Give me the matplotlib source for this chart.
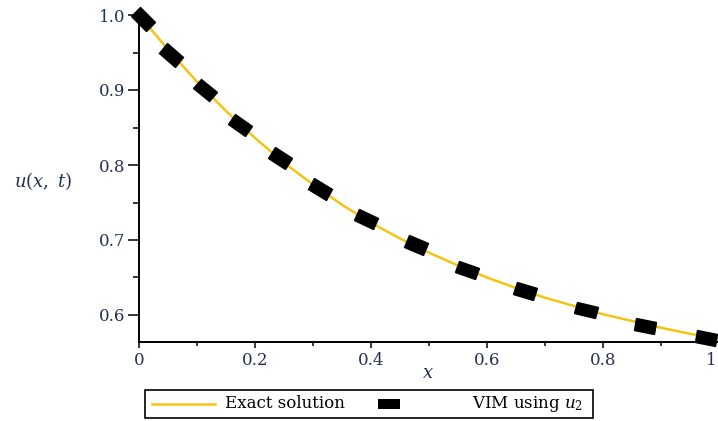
import numpy as np
import matplotlib.pyplot as plt
from matplotlib.markers import MarkerStyle
from matplotlib.transforms import Affine2D, ScaledTranslation
from matplotlib.patches import Rectangle
from matplotlib.lines import Line2D

# exact solution
x_exact = [0.0, 0.05, 0.1, 0.15, 0.2, 0.25, 0.3, 0.35, 0.4, 0.45, 0.5,
           0.55, 0.6, 0.65, 0.7, 0.75, 0.8, 0.85, 0.9, 0.95, 1.0]
u_exact = [1.0, 0.954, 0.911, 0.872, 0.836, 0.803, 0.774, 0.747, 0.723, 0.702, 0.683,
           0.666, 0.650, 0.636, 0.623, 0.612, 0.601, 0.592, 0.583, 0.575, 0.568]

# VIM (u_2) points
x_vim = [0.007, 0.055, 0.114, 0.174, 0.243, 0.312, 0.391, 0.477, 0.565, 0.665, 0.770, 0.872, 0.978]
u_vim = [0.995, 0.947, 0.900, 0.853, 0.809, 0.768, 0.728, 0.693, 0.660, 0.632, 0.607, 0.585, 0.569]

plt.rcParams['font.family'] = ['DejaVu Serif']
plt.rcParams['mathtext.fontset'] = 'dejavuserif'

W, H = 718, 421
fig = plt.figure(figsize=(W / 100, H / 100), dpi=100)
ax = fig.add_axes([139 / W, 1 - 342 / H, 580 / W, 327 / H])

ax.set_xlim(0, 1)
ax.set_ylim(0.564, 1.0)

ax.plot(x_exact, u_exact, color='#f4c414', lw=1.8, zorder=2)

# markers tilted along the curve, like the original
pts = ax.transData.transform(np.column_stack([x_vim, u_vim]))
ang = np.degrees(np.arctan(np.gradient(pts[:, 1], pts[:, 0])))
for (xv, uv, a) in zip(x_vim, u_vim, ang):
    m = MarkerStyle('s', transform=Affine2D().scale(1.7, 1.0).rotate_deg(0.85 * a))
    ax.plot([xv], [uv], ls='none', marker=m, ms=8.8, color='black',
            clip_on=False, zorder=3)

ax.set_xticks([0, 0.2, 0.4, 0.6, 0.8, 1.0])
ax.set_xticklabels(['0', '0.2', '0.4', '0.6', '0.8', '1'])
ax.set_xticks(np.arange(0.1, 1.0, 0.2), minor=True)
ax.set_yticks([0.6, 0.7, 0.8, 0.9, 1.0])
ax.set_yticks([0.65, 0.75, 0.85, 0.95], minor=True)

for s in ['top', 'right']:
    ax.spines[s].set_visible(False)
for s in ['left', 'bottom']:
    ax.spines[s].set_linewidth(1.4)

tc = '#243052'
ax.tick_params(axis='y', which='major', length=8, width=1.1, labelsize=12,
               labelcolor=tc, pad=2)
ax.tick_params(axis='y', which='minor', length=4, width=1.1)
ax.tick_params(axis='x', which='major', length=4, width=1.1, labelsize=12,
               labelcolor=tc, pad=3)
ax.tick_params(axis='x', which='minor', length=3, width=1.1)

# last x label sits at the right edge
last = ax.get_xticklabels()[-1]
last.set_ha('right')
last.set_transform(last.get_transform() + ScaledTranslation(-0.02, 0, fig.dpi_scale_trans))

fig.text(428 / W, 1 - 373 / H, '$x$', fontsize=13, ha='center', va='center', color=tc)
fig.text(14 / W, 1 - 181 / H, '$u(x,\\ t)$', fontsize=13, ha='left', va='center', color=tc)

# legend box
y0, y1 = 1 - 418 / H, 1 - 390 / H
fig.add_artist(Rectangle((145 / W, y0), (593 - 145) / W, y1 - y0, transform=fig.transFigure,
                         fill=False, edgecolor='black', lw=1.2))
ym = 1 - 404 / H
fig.add_artist(Line2D([152 / W, 215 / W], [ym, ym], transform=fig.transFigure,
                      color='#f4c414', lw=1.8))
fig.text(225 / W, ym, 'Exact solution', fontsize=12, ha='left', va='center')
fig.add_artist(Rectangle((378 / W, 1 - 409 / H), 22 / W, 10 / H, transform=fig.transFigure,
                         facecolor='black', edgecolor='none'))
fig.text(583 / W, ym, 'VIM using $u_2$', fontsize=12, ha='right', va='center')

fig.savefig('out.png')
